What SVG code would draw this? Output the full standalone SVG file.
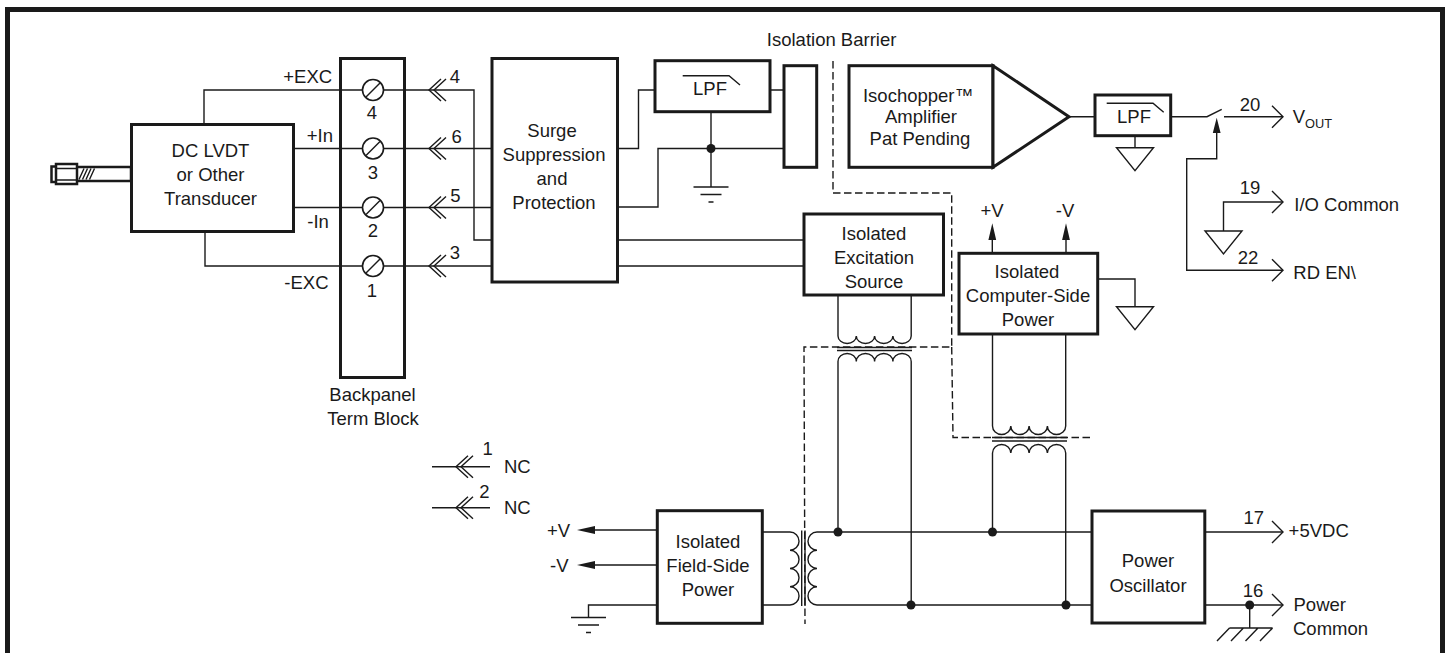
<svg xmlns="http://www.w3.org/2000/svg" width="1445" height="653" viewBox="0 0 1445 653">
<style>
text{font-family:"Liberation Sans",Arial,sans-serif;font-size:18.5px;fill:#1a1a1a}
.c{text-anchor:middle}
.b{fill:#fff;stroke:#1a1a1a;stroke-width:3}
.r{fill:#fff;stroke:#1a1a1a;stroke-width:2.5}
.w{fill:none;stroke:#1a1a1a;stroke-width:1.4}
.d{fill:none;stroke:#1a1a1a;stroke-width:1.4;stroke-dasharray:7.5 3.5}
.t{fill:#fff;stroke:#1a1a1a;stroke-width:1.4}
.s{font-size:12.8px}
</style>
<defs>
<path id="chev" class="w" d="M12 -11 L0 0 L12 11 M17 -11 L5 0 L17 11"/>
<path id="open" class="w" d="M-11 -11 L0 0 L-11 11"/>
<circle id="dot" r="4.5" fill="#1a1a1a"/>
<g id="screw"><circle r="10.5" fill="#fff" stroke="#1a1a1a" stroke-width="1.6"/><path class="w" d="M-7 7 L7 -7"/></g>
<path id="tri" class="t" d="M-18.5 0 H18.5 L0 23 Z"/>
<path id="gnd" class="w" d="M-17.5 0 H17.5 M-10.5 7.5 H10.5 M-2.5 15 H2.5"/>
</defs>
<path id="frame" d="M7.5 653 V9.5 H1442.5 V653" fill="none" stroke="#1a1a1a" stroke-width="5"/>

<g id="connectors">
<path class="w" d="M204 124 V90 H362 M294 148.5 H362 M294 207.5 H362 M205 232 V266 H362"/>
<path class="w" d="M384 90 H474 V240 H492 M384 148.5 H492 M384 207.5 H492 M384 266 H492"/>
<path class="w" d="M617.5 148.5 H638.5 V90 H655 M770 90 H784 M617.5 207 H658 V148.5 H784 M711 111 V187 M617.5 240 H804 M617.5 266 H804"/>
<path class="d" d="M833 61 V193 H951.7 V347 H804 L805 624"/>
<path class="d" d="M951.7 347 L953 437.5 H1090"/>
<path class="w" d="M838 295 V336 a9.15 7.5 0 0 0 18.3 0 a9.15 7.5 0 0 0 18.3 0 a9.15 7.5 0 0 0 18.3 0 a9.15 7.5 0 0 0 18.3 0 V295"/>
<path class="w" d="M837 347.5 H912 M837 350.5 H912"/>
<path class="w" d="M838 532 V361.5 a9.15 8 0 0 1 18.3 0 a9.15 8 0 0 1 18.3 0 a9.15 8 0 0 1 18.3 0 a9.15 8 0 0 1 18.3 0 V605"/>
<path class="w" d="M992.5 334 V426 a9.15 8.5 0 0 0 18.3 0 a9.15 8.5 0 0 0 18.3 0 a9.15 8.5 0 0 0 18.3 0 a9.15 8.5 0 0 0 18.3 0 V334"/>
<path class="w" d="M992 437.5 H1067 M992 441 H1067"/>
<path class="w" d="M992.5 532 V453 a9.15 8.5 0 0 1 18.3 0 a9.15 8.5 0 0 1 18.3 0 a9.15 8.5 0 0 1 18.3 0 a9.15 8.5 0 0 1 18.3 0 V605"/>
<path class="w" d="M762 532 H790 a9 9.1 0 0 1 0 18.25 a9 9.1 0 0 1 0 18.25 a9 9.1 0 0 1 0 18.25 a9 9.1 0 0 1 0 18.25 H762"/>
<path class="w" d="M1092 532 H817 a9 9.1 0 0 0 0 18.25 a9 9.1 0 0 0 0 18.25 a9 9.1 0 0 0 0 18.25 a9 9.1 0 0 0 0 18.25 H1092"/>
<path class="w" d="M801.7 530.5 V606 M805 530.5 V606"/>
<path class="w" d="M1069 116.7 H1095 M1170.7 116.7 H1207 L1221.7 109.3 M1224 116.7 H1283 M1216.7 133 V158.7 H1186.7 V270.3 H1283 M1283 202 H1223.5 V231 M1135 135.7 V147.7"/>
<path class="w" d="M992.3 253 V240 M1066 253 V240 M1097.7 279 H1135 V306.7"/>
<path class="w" d="M657 530 H595 M657 565 H595 M657 605 H588.5 V617.5"/>
<path class="w" d="M432 466.7 H490 M432 507.7 H490"/>
<path class="w" d="M1204.8 532 H1283 M1204.8 605 H1283 M1249.7 605 V628 M1229.5 628 H1272.6 M1229.5 628 L1217 641 M1243.4 628 L1231 641 M1258 628 L1245.5 641 M1272.6 628 L1260 641"/>
<use href="#chev" x="429" y="90"/><use href="#chev" x="429" y="148.5"/><use href="#chev" x="429" y="207.5"/><use href="#chev" x="429" y="266"/>
<use href="#chev" x="456" y="466.7"/><use href="#chev" x="456" y="507.7"/>
<use href="#open" x="1283" y="116.7"/><use href="#open" x="1283" y="202"/><use href="#open" x="1283" y="270.3"/><use href="#open" x="1283" y="532"/><use href="#open" x="1283" y="605"/>
<use href="#dot" x="711" y="148.5"/><use href="#dot" x="838" y="532"/><use href="#dot" x="992.5" y="532"/><use href="#dot" x="911" y="605"/><use href="#dot" x="1066" y="605"/><use href="#dot" x="1249.7" y="605"/>
<use href="#gnd" x="711" y="187"/><use href="#gnd" x="588.5" y="617.5"/>
<path d="M1216.7 117.7 L1212.8 133 H1220.6 Z M992.3 223.3 L988.4 240 H996.2 Z M1066 223.3 L1062.1 240 H1069.9 Z M577 530 L595 526 V534 Z M577 565 L595 561 V569 Z" fill="#1a1a1a"/>
<use href="#tri" x="1135" y="147.7"/><use href="#tri" x="1223.5" y="231"/><use href="#tri" x="1135" y="306.7"/>
</g>

<g id="sensor">
<rect class="r" x="70" y="167" width="61" height="14"/>
<path class="w" d="M79 179.5 L84 168.5 M82.5 179.5 L87.5 168.5 M86 179.5 L91 168.5 M89.5 179.5 L94.5 168.5"/>
<rect class="r" x="51.5" y="166.5" width="6" height="15.5"/>
<rect class="r" x="56" y="164" width="21" height="20"/>
<path class="w" d="M57 168.5 H76 M57 180 H76"/>
</g>
<g id="transducer"><rect class="b" x="131.5" y="124.5" width="162" height="107"/><text class="c" x="210.5" y="156.7">DC LVDT</text><text class="c" x="210.5" y="181">or Other</text><text class="c" x="210.5" y="205">Transducer</text></g>
<g id="termblock"><path class="b" d="M340.5 58.5 H404.5 V377.5 H340.5 Z"/>
<path class="w" d="M340 90 H362 M340 148.5 H362 M340 207.5 H362 M340 266 H362 M384 90 H405 M384 148.5 H405 M384 207.5 H405 M384 266 H405"/>
<use href="#screw" x="373" y="90"/><use href="#screw" x="373" y="148.5"/><use href="#screw" x="373" y="207.5"/><use href="#screw" x="373" y="266"/>
<text class="c" x="372" y="119">4</text><text class="c" x="373" y="179.3">3</text><text class="c" x="373" y="236.7">2</text><text class="c" x="372" y="296.7">1</text></g>
<g id="surge"><rect class="b" x="492" y="58.5" width="125.5" height="223.5"/><text class="c" x="552" y="137">Surge</text><text class="c" x="554" y="161">Suppression</text><text class="c" x="552" y="185">and</text><text class="c" x="554" y="209">Protection</text></g>
<g id="lpf1"><rect class="b" x="655" y="60.7" width="115" height="51"/><path class="w" d="M682.7 75.7 H729 L740 85"/><text class="c" x="710" y="95">LPF</text></g>
<g id="isorect"><rect class="b" x="784" y="65.7" width="32.7" height="101.6"/></g>
<g id="amp"><rect class="b" x="849" y="65.7" width="144" height="101.6"/><path class="b" d="M993 65.7 L1069 116.7 L993 167.3 Z"/><text class="c" x="918" y="101.7">Isochopper™</text><text class="c" x="921" y="123">Amplifier</text><text class="c" x="920" y="144.5">Pat Pending</text></g>
<g id="lpf2"><rect class="b" x="1095" y="95" width="75.7" height="40.7"/><path class="w" d="M1106.7 103.3 H1153 L1163.7 112.3"/><text class="c" x="1134" y="122.7">LPF</text></g>
<g id="excitation"><rect class="b" x="804" y="214" width="139.5" height="81"/><text class="c" x="874" y="240">Isolated</text><text class="c" x="874" y="264">Excitation</text><text class="c" x="874" y="288">Source</text></g>
<g id="computerpower"><rect class="b" x="959" y="253.3" width="138.7" height="80.7"/><text class="c" x="1027" y="278">Isolated</text><text class="c" x="1028" y="302">Computer-Side</text><text class="c" x="1028" y="326">Power</text></g>
<g id="fieldpower"><rect class="b" x="657.3" y="510.7" width="105" height="112.6"/><text class="c" x="708" y="548">Isolated</text><text class="c" x="708" y="572">Field-Side</text><text class="c" x="708" y="596">Power</text></g>
<g id="oscillator"><rect class="b" x="1092" y="511" width="112.8" height="112"/><text class="c" x="1148" y="567">Power</text><text class="c" x="1148" y="592">Oscillator</text></g>
<g id="labels">
<text x="283.3" y="82.7">+EXC</text><text x="306.7" y="141.7">+In</text><text x="307.3" y="228.3">-In</text><text x="284.3" y="289.3">-EXC</text>
<text class="c" x="455" y="82.7">4</text><text class="c" x="456.7" y="143.3">6</text><text class="c" x="455.5" y="202.3">5</text><text class="c" x="455" y="259">3</text>
<text class="c" x="372.5" y="400.5">Backpanel</text><text class="c" x="373" y="425">Term Block</text>
<text class="c" x="831.6" y="46">Isolation Barrier</text>
<text class="c" x="487.7" y="455">1</text><text class="c" x="484.3" y="498.3">2</text><text x="504" y="472.7">NC</text><text x="504" y="514">NC</text>
<text x="547" y="537">+V</text><text x="550" y="572">-V</text>
<text class="c" x="992" y="216.7">+V</text><text class="c" x="1065" y="216.7">-V</text>
<text class="c" x="1250" y="110.7">20</text><text x="1292.7" y="123">V<tspan class="s" dy="5">OUT</tspan></text>
<text class="c" x="1250" y="194">19</text><text x="1294.3" y="211.3">I/O Common</text>
<text class="c" x="1248" y="264.3">22</text><text x="1293.3" y="279">RD EN\</text>
<text class="c" x="1253.8" y="524.3">17</text><text x="1288.6" y="537">+5VDC</text>
<text class="c" x="1253" y="596.7">16</text><text x="1293.5" y="611">Power</text><text x="1293" y="635">Common</text>
</g>
</svg>
